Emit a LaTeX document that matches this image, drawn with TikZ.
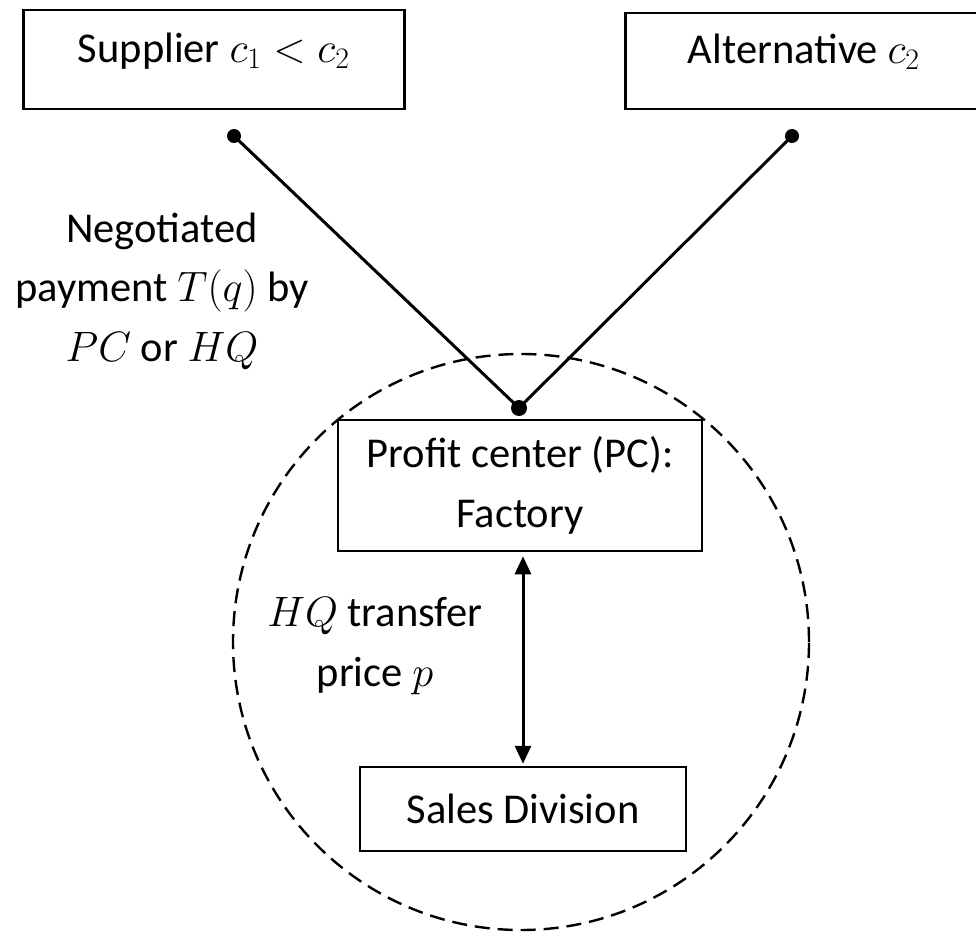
\RequirePackage{fix-cm}
\documentclass[tikz,border=0pt]{standalone}
\usepackage{fontspec}
\setmainfont{Carlito}
\usetikzlibrary{arrows.meta}
\newcommand*{\mylabelfont}{\fontsize{42.5}{59.5}\selectfont}
\newcommand*{\mytip}{Triangle[length=18pt,width=16pt]}

\begin{document}
\begin{tikzpicture}[x=1pt, y=-1pt, font=\mylabelfont,
    box/.style = {draw, line width=2.5pt, inner sep=0pt},
    joint/.style = {circle, fill, inner sep=0pt, minimum size=#1},
    link/.style = {line width=3pt}]
  \useasboundingbox (0,0) rectangle (976,933);
  % boundary of the firm
  \draw[line width=2.4pt, dash pattern=on 15pt off 8pt] (521,642) circle[radius=288pt];
  % sources
  \node[box, anchor=north west, minimum width=381pt, text height=52pt, text depth=47pt]
    (supplier) at (22,9) {Supplier $c_1 < c_2$};
  \node[box, anchor=north west, minimum width=357pt, text height=50pt, text depth=46pt]
    (altern) at (624,12) {Alternative $c_2$};
  \node[joint=14pt] (sdot) at (234,136) {};
  \node[joint=14pt] (adot) at (792,136) {};
  \node[joint=16pt] (pdot) at (519,408) {};
  \draw[link] (sdot.center) -- (pdot.center) -- (adot.center);
  % inside the firm
  \node[box, minimum width=364pt, minimum height=131pt, align=center]
    (profit) at (520,485.5) {Profit center (PC):\\ Factory};
  \node[box, minimum width=326pt, minimum height=84pt] (sales) at (523,809) {Sales Division};
  \draw[link, {\mytip}-{\mytip}, shorten <=4pt, shorten >=2pt]
    (profit.south -| sales.north) -- (sales.north);
  % labels
  \node[align=center] (payment) at (162,291) {Negotiated\\ payment $T(q)$ by\\ $PC$ or $HQ$};
  \node[align=center] (transfer) at (375,646) {$HQ$ transfer\\ price $p$};
\end{tikzpicture}
\end{document}
